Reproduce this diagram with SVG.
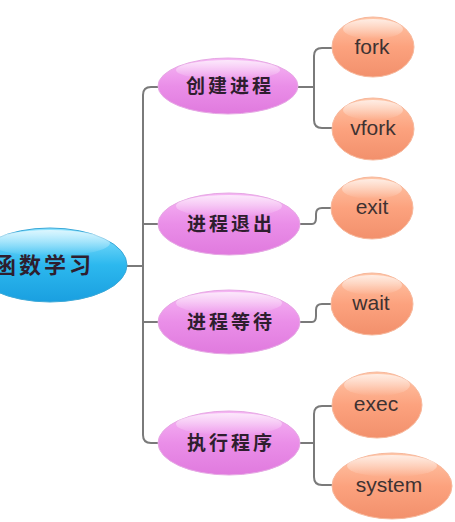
<svg xmlns="http://www.w3.org/2000/svg" width="455" height="522" viewBox="0 0 455 522">
<defs>
<linearGradient id="gBlue" x1="0" y1="0" x2="0" y2="1">
<stop offset="0" stop-color="#8fe4ff"/>
<stop offset="0.5" stop-color="#2cb8ee"/>
<stop offset="1" stop-color="#1a9fe0"/>
</linearGradient>
<linearGradient id="gPurple" x1="0" y1="0" x2="0" y2="1">
<stop offset="0" stop-color="#f6b6f4"/>
<stop offset="0.5" stop-color="#ea8ee8"/>
<stop offset="1" stop-color="#e07ade"/>
</linearGradient>
<linearGradient id="gOrange" x1="0" y1="0" x2="0" y2="1">
<stop offset="0" stop-color="#ffc6a8"/>
<stop offset="0.5" stop-color="#fca27e"/>
<stop offset="1" stop-color="#f2906c"/>
</linearGradient>
<linearGradient id="gHi" x1="0" y1="0" x2="0" y2="1">
<stop offset="0" stop-color="#ffffff" stop-opacity="0.7"/>
<stop offset="1" stop-color="#ffffff" stop-opacity="0"/>
</linearGradient>
</defs>
<style>
.conn{fill:none;stroke:#7a7a7a;stroke-width:2}
.blue{fill:url(#gBlue);stroke:#3aa8d8;stroke-width:1}
.pur{fill:url(#gPurple);stroke:#e6a8e4;stroke-width:1}
.org{fill:url(#gOrange);stroke:#f7b89c;stroke-width:1}
.hi{fill:url(#gHi)}
.cn{font-family:"Noto Sans CJK SC","Noto Sans CJK JP",sans-serif;font-size:19px;font-weight:600;fill:#2e1e2e;text-anchor:middle;letter-spacing:3px}
.en{font-family:"Liberation Sans",Arial,sans-serif;font-size:21px;fill:#3e3232;text-anchor:middle}
</style>
<rect width="455" height="522" fill="#ffffff"/>
<g id="connectors">
<path class="conn" d="M127,266 H143"/>
<path class="conn" d="M158,87 H151 Q143,87 143,95 V435 Q143,443 151,443 H158"/>
<path class="conn" d="M143,224 H158"/>
<path class="conn" d="M143,322 H158"/>
<path class="conn" d="M298,87 H314"/>
<path class="conn" d="M333,48 H322 Q314,48 314,56 V120 Q314,128 322,128 H333"/>
<path class="conn" d="M300,224 H312 Q316,224 316,218 V214 Q316,208 322,208 H331"/>
<path class="conn" d="M300,322 H312 Q316,322 316,316 V310 Q316,304 322,304 H331"/>
<path class="conn" d="M300,443 H314"/>
<path class="conn" d="M333,406 H322 Q314,406 314,414 V477 Q314,485 322,485 H333"/>
</g>
<g id="root">
<ellipse class="blue" cx="50" cy="265" rx="77" ry="37"/>
<ellipse class="hi" cx="50" cy="243" rx="60" ry="13"/>
<text class="cn" x="44" y="273" style="font-size:22px">函数学习</text>
</g>
<g id="n1">
<ellipse class="pur" cx="228" cy="86" rx="70" ry="28"/>
<ellipse class="hi" cx="228" cy="70" rx="52" ry="10"/>
<text class="cn" x="230" y="93">创建进程</text>
</g>
<g id="n2">
<ellipse class="pur" cx="229" cy="224" rx="71" ry="31"/>
<ellipse class="hi" cx="229" cy="206" rx="53" ry="11"/>
<text class="cn" x="231" y="231">进程退出</text>
</g>
<g id="n3">
<ellipse class="pur" cx="229" cy="322" rx="71" ry="32"/>
<ellipse class="hi" cx="229" cy="303" rx="53" ry="11"/>
<text class="cn" x="231" y="329">进程等待</text>
</g>
<g id="n4">
<ellipse class="pur" cx="229" cy="443" rx="71" ry="32"/>
<ellipse class="hi" cx="229" cy="424" rx="53" ry="11"/>
<text class="cn" x="231" y="450">执行程序</text>
</g>
<g id="fork">
<ellipse class="org" cx="373" cy="47" rx="41" ry="30"/>
<ellipse class="hi" cx="373" cy="29" rx="30" ry="10"/>
<text class="en" x="372" y="54">fork</text>
</g>
<g id="vfork">
<ellipse class="org" cx="373" cy="129" rx="41" ry="31"/>
<ellipse class="hi" cx="373" cy="110" rx="30" ry="10"/>
<text class="en" x="373" y="135">vfork</text>
</g>
<g id="exit">
<ellipse class="org" cx="372" cy="208" rx="41" ry="31"/>
<ellipse class="hi" cx="372" cy="189" rx="30" ry="10"/>
<text class="en" x="372" y="214">exit</text>
</g>
<g id="wait">
<ellipse class="org" cx="372" cy="304" rx="41" ry="31"/>
<ellipse class="hi" cx="372" cy="285" rx="30" ry="10"/>
<text class="en" x="371" y="310">wait</text>
</g>
<g id="exec">
<ellipse class="org" cx="377" cy="405" rx="45" ry="33"/>
<ellipse class="hi" cx="377" cy="385" rx="33" ry="11"/>
<text class="en" x="376" y="411">exec</text>
</g>
<g id="system">
<ellipse class="org" cx="392" cy="486" rx="60" ry="33"/>
<ellipse class="hi" cx="392" cy="466" rx="45" ry="11"/>
<text class="en" x="389" y="492">system</text>
</g>
</svg>
